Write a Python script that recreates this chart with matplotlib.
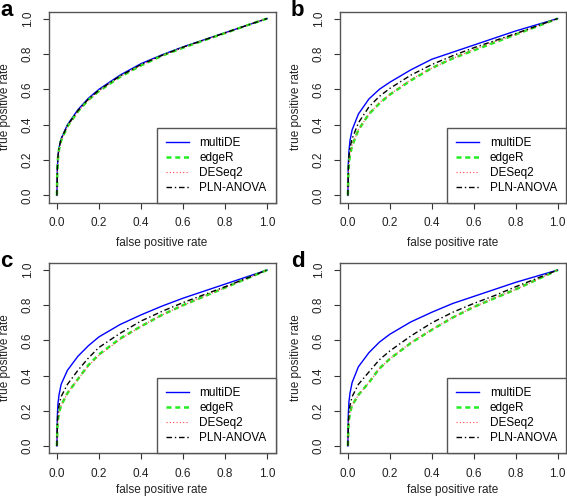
import matplotlib
matplotlib.use('Agg')
import matplotlib.pyplot as plt

plt.rcParams['font.family'] = ['Liberation Sans', 'DejaVu Sans']

# false positive rate grid
fpr = [0, 0.002, 0.005, 0.01, 0.02, 0.05, 0.1, 0.15, 0.2, 0.3, 0.4, 0.5, 0.6, 0.7, 0.8, 0.9, 1.0]

methods = ['multiDE', 'edgeR', 'DESeq2', 'PLN-ANOVA']
panels = ['a', 'b', 'c', 'd']

# true positive rate per panel / method
tpr_a_multide = [0, 0.15, 0.22, 0.27, 0.32, 0.40, 0.485, 0.55, 0.60, 0.68, 0.745, 0.795, 0.84, 0.88, 0.92, 0.96, 1.0]
tpr_a_edger   = [0, 0.14, 0.21, 0.26, 0.31, 0.39, 0.475, 0.54, 0.59, 0.67, 0.735, 0.79, 0.835, 0.877, 0.918, 0.96, 1.0]
tpr_a_deseq2  = [0, 0.14, 0.21, 0.26, 0.31, 0.39, 0.475, 0.54, 0.59, 0.672, 0.737, 0.79, 0.836, 0.878, 0.918, 0.96, 1.0]
tpr_a_pln     = [0, 0.15, 0.22, 0.27, 0.32, 0.395, 0.48, 0.545, 0.595, 0.675, 0.74, 0.792, 0.838, 0.879, 0.919, 0.96, 1.0]

tpr_b_multide = [0, 0.18, 0.25, 0.31, 0.37, 0.46, 0.545, 0.60, 0.64, 0.71, 0.77, 0.81, 0.85, 0.89, 0.93, 0.965, 1.0]
tpr_b_edger   = [0, 0.12, 0.18, 0.23, 0.28, 0.37, 0.46, 0.52, 0.57, 0.65, 0.72, 0.775, 0.82, 0.865, 0.91, 0.955, 1.0]
tpr_b_deseq2  = [0, 0.12, 0.18, 0.23, 0.285, 0.37, 0.46, 0.525, 0.57, 0.655, 0.72, 0.775, 0.825, 0.868, 0.91, 0.955, 1.0]
tpr_b_pln     = [0, 0.15, 0.22, 0.27, 0.32, 0.41, 0.50, 0.56, 0.605, 0.68, 0.74, 0.79, 0.835, 0.875, 0.915, 0.958, 1.0]

tpr_c_multide = [0, 0.17, 0.24, 0.29, 0.35, 0.43, 0.51, 0.57, 0.62, 0.69, 0.745, 0.795, 0.84, 0.88, 0.92, 0.96, 1.0]
tpr_c_edger   = [0, 0.10, 0.15, 0.19, 0.23, 0.30, 0.38, 0.46, 0.52, 0.61, 0.68, 0.745, 0.80, 0.85, 0.90, 0.95, 1.0]
tpr_c_deseq2  = [0, 0.10, 0.15, 0.19, 0.23, 0.30, 0.38, 0.455, 0.515, 0.605, 0.68, 0.745, 0.80, 0.85, 0.90, 0.95, 1.0]
tpr_c_pln     = [0, 0.13, 0.19, 0.23, 0.28, 0.35, 0.43, 0.50, 0.56, 0.64, 0.71, 0.765, 0.815, 0.86, 0.905, 0.952, 1.0]

tpr_d_multide = [0, 0.18, 0.25, 0.30, 0.36, 0.45, 0.53, 0.59, 0.635, 0.705, 0.76, 0.81, 0.85, 0.89, 0.93, 0.965, 1.0]
tpr_d_edger   = [0, 0.10, 0.15, 0.19, 0.23, 0.29, 0.36, 0.44, 0.495, 0.585, 0.66, 0.73, 0.79, 0.84, 0.89, 0.945, 1.0]
tpr_d_deseq2  = [0, 0.10, 0.15, 0.19, 0.23, 0.29, 0.36, 0.44, 0.495, 0.588, 0.662, 0.73, 0.79, 0.842, 0.89, 0.945, 1.0]
tpr_d_pln     = [0, 0.13, 0.19, 0.23, 0.28, 0.35, 0.42, 0.49, 0.54, 0.625, 0.70, 0.76, 0.81, 0.855, 0.905, 0.952, 1.0]

data = {
    'a': [tpr_a_multide, tpr_a_edger, tpr_a_deseq2, tpr_a_pln],
    'b': [tpr_b_multide, tpr_b_edger, tpr_b_deseq2, tpr_b_pln],
    'c': [tpr_c_multide, tpr_c_edger, tpr_c_deseq2, tpr_c_pln],
    'd': [tpr_d_multide, tpr_d_edger, tpr_d_deseq2, tpr_d_pln],
}

styles = [
    dict(color='#0000ff', lw=1.0, ls='-'),
    dict(color='#22ee22', lw=1.8, ls=(0, (2, 1.5))),
    dict(color='#ff4444', lw=0.8, ls=(0, (1, 2))),
    dict(color='black', lw=1.0, ls=(0, (4, 2, 1, 2))),
]

FS = 8.5
W, H = 567, 499
fig = plt.figure(figsize=(W / 100, H / 100), dpi=100)

# panel boxes in pixels: left, top, right, bottom
boxes = {
    'a': (48.5, 11.5, 275.5, 202.5),
    'b': (339.5, 11.5, 566.0, 202.5),
    'c': (48.5, 263.0, 275.5, 453.0),
    'd': (339.5, 263.0, 566.0, 453.0),
}
letter_pos = {'a': (0, 0), 'b': (291, 0), 'c': (0, 251), 'd': (291, 251)}
xlabel_pad = {'a': 6, 'b': 6, 'c': 3, 'd': 3}

for p in panels:
    l, t, r, b = boxes[p]
    ax = fig.add_axes([l / W, 1 - b / H, (r - l) / W, (b - t) / H])
    for tpr, name, st in zip(data[p], methods, styles):
        ax.plot(fpr, tpr, label=name, **st)
    ax.set_xlim(-0.04, 1.04)
    ax.set_ylim(-0.04, 1.04)
    ticks = [0, 0.2, 0.4, 0.6, 0.8, 1.0]
    ax.set_xticks(ticks)
    ax.set_yticks(ticks)
    ax.set_xticklabels(['%.1f' % v for v in ticks], fontsize=FS)
    ax.set_yticklabels(['%.1f' % v for v in ticks], fontsize=FS, rotation=90, va='center')
    ax.tick_params(direction='out', length=4.5, width=0.8, colors='#333333', labelcolor='#222222', pad=6)
    for s in ax.spines.values():
        s.set_color('#555555')
        s.set_linewidth(1.0)
    ax.set_xlabel('false positive rate', fontsize=FS, color='#222222', labelpad=xlabel_pad[p])
    ax.set_ylabel('true positive rate', fontsize=FS, color='#222222', labelpad=8)
    leg = ax.legend(loc='lower right', borderaxespad=0, fancybox=False, framealpha=1,
                    edgecolor='#555555', fontsize=FS, handlelength=1.95, handletextpad=0.9,
                    labelspacing=0.25, borderpad=0.75)
    leg.get_frame().set_linewidth(1.0)
    x, y = letter_pos[p]
    fig.text(x / W, 1 - y / H, p, fontsize=16, fontweight='bold', va='top', ha='left')

fig.savefig('out.png', dpi=100)
